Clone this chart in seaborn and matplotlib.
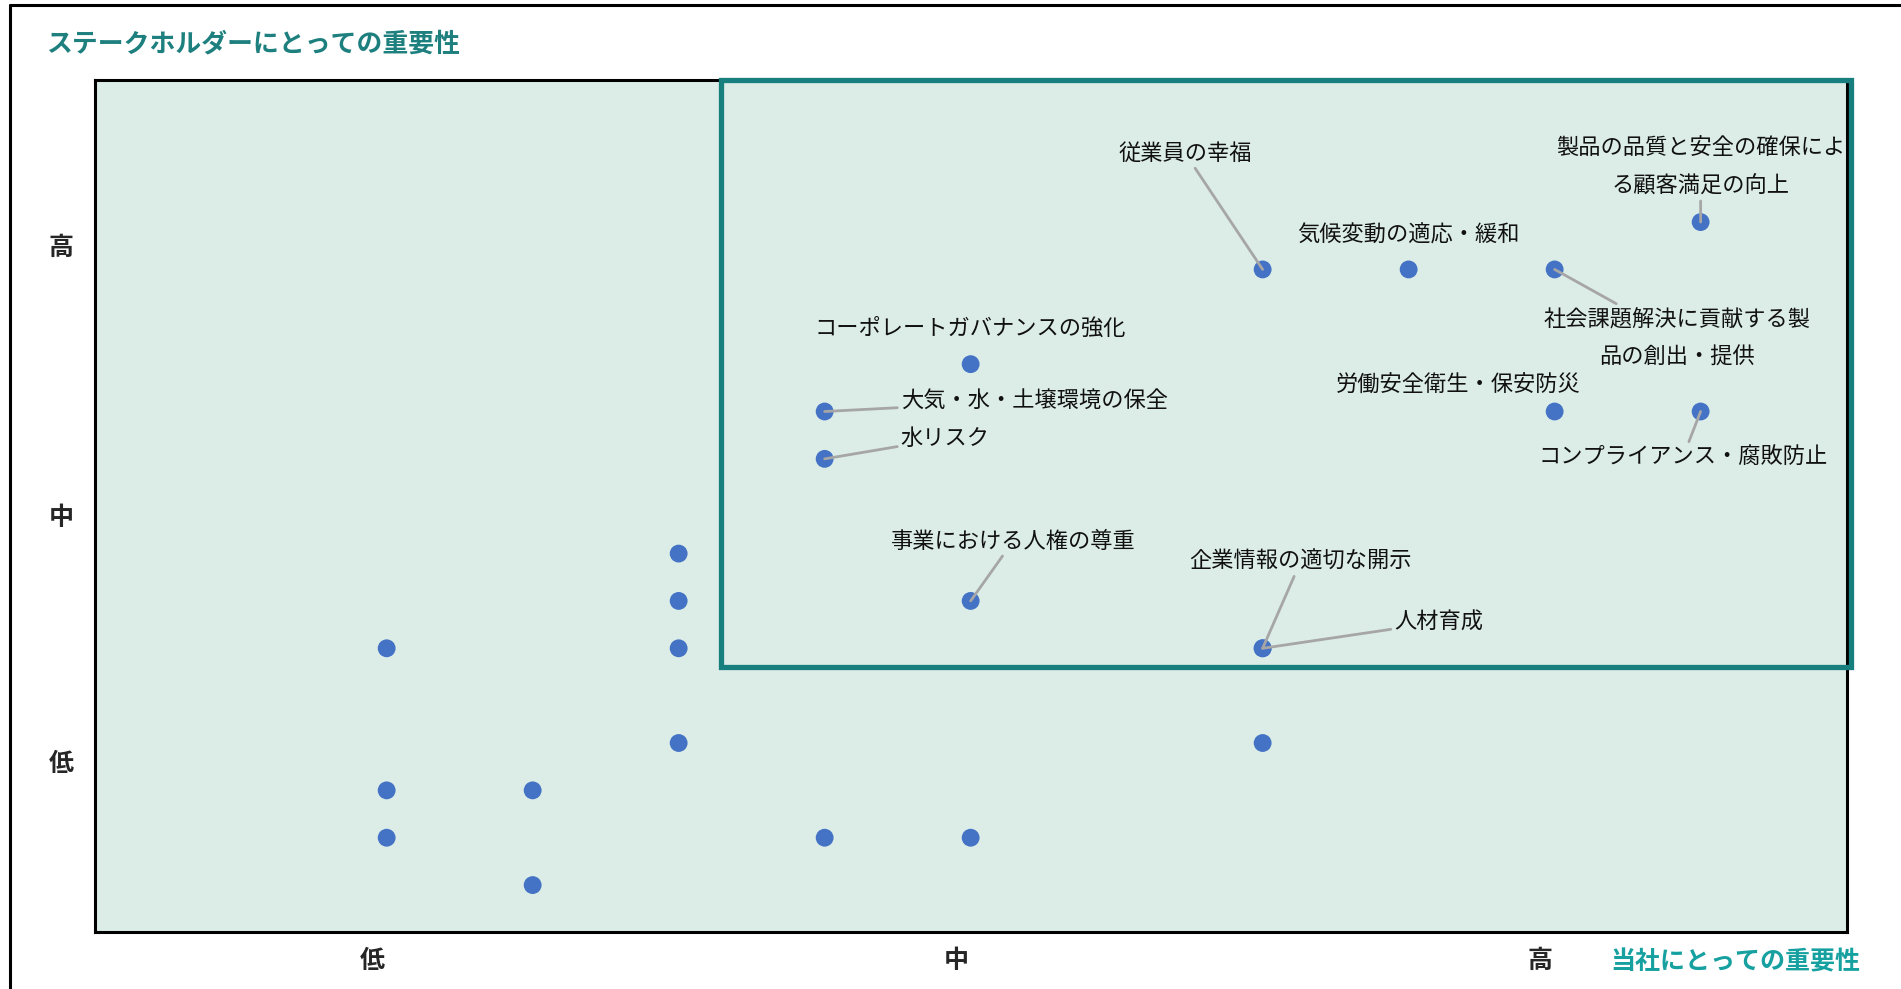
import numpy as np
import pandas as pd
import matplotlib
matplotlib.use("Agg")
import matplotlib.pyplot as plt
import seaborn as sns
from matplotlib.patches import Rectangle
from matplotlib.lines import Line2D

# materiality data: importance to company (x) and to stakeholders (y), grid units
imp_company = [11, 8, 9, 10, 6, 5, 5, 10, 11, 6, 8, 8,
               4, 4, 4, 2, 4, 8, 2, 3, 2, 5, 6, 3]
imp_stake = [15, 14, 14, 14, 12, 11, 10, 11, 11, 7, 6, 6,
             8, 7, 6, 6, 4, 4, 3, 3, 2, 2, 2, 1]
issues = ["製品の品質と安全の確保によ\nる顧客満足の向上", "従業員の幸福", "気候変動の適応・緩和",
          "社会課題解決に貢献する製\n品の創出・提供", "コーポレートガバナンスの強化",
          "大気・水・土壌環境の保全", "水リスク", "労働安全衛生・保安防災",
          "コンプライアンス・腐敗防止", "事業における人権の尊重",
          "企業情報の適切な開示", "人材育成"] + [""] * 12

tick_labels = ["低", "中", "高"]
title_y = "ステークホルダーにとっての重要性"
title_x = "当社にとっての重要性"

# label layout: (text x, text y, ha, draw leader line)
label_layout = [
    (11.0, 16.16, "center", True),
    (7.47, 16.45, "center", True),
    (9.0, 14.73, "center", False),
    (10.84, 12.56, "center", True),
    (6.0, 12.76, "center", False),
    (5.52, 11.23, "left", True),
    (5.52, 10.43, "left", True),
    (9.34, 11.56, "center", False),
    (10.88, 10.05, "center", True),
    (6.29, 8.26, "center", True),
    (8.26, 7.83, "center", True),
    (8.90, 6.55, "left", True),
]

df = pd.DataFrame({"company": imp_company, "stake": imp_stake, "issue": issues})

sns.set_style("white")
plt.rcParams['font.family'] = ['Noto Sans CJK JP', 'DejaVu Sans']

fig = plt.figure(figsize=(19.01, 9.89), dpi=100)
ax = fig.add_axes([0.0498, 0.0572, 0.9216, 0.8619])
ax.set_facecolor("#dcede8")

sns.scatterplot(data=df, x="company", y="stake", color="#4472C4", s=165,
                edgecolor="none", ax=ax, zorder=4)

ax.set_xlim(0, 12)
ax.set_ylim(0, 18)

for i, (tx, ty, ha, leader) in enumerate(label_layout):
    row = df.iloc[i]
    if leader:
        ax.annotate(row.issue, xy=(row.company, row.stake), xytext=(tx, ty),
                    ha=ha, va="center", fontsize=16, color="#111111", linespacing=1.85,
                    arrowprops=dict(arrowstyle="-", color="#a6a6a6", lw=2,
                                    shrinkA=0, shrinkB=0), zorder=5)
    else:
        ax.text(tx, ty, row.issue, ha=ha, va="center", fontsize=16,
                color="#111111", zorder=5)

# high-priority box
ax.add_patch(Rectangle((4.29, 5.6), 7.74, 12.4, fill=False, edgecolor="#17807f",
                       lw=3.8, clip_on=False, zorder=6))

ax.set_xticks([1.9, 5.9, 9.9])
ax.set_xticklabels(tick_labels, fontsize=18, fontweight="bold")
ax.set_yticks([3.6, 8.8, 14.5])
ax.set_yticklabels(tick_labels, fontsize=18, fontweight="bold")
ax.tick_params(axis="x", length=0, pad=12)
ax.tick_params(axis="y", length=0, pad=15)
ax.set_xlabel("")
ax.set_ylabel("")
for s in ax.spines.values():
    s.set_color("black")
    s.set_linewidth(2.2)
    s.set_visible(True)

fig.text(0.0242, 0.9555, title_y, ha="left", va="center", fontsize=18.6,
         fontweight="bold", color="#1e7f7f")
fig.text(0.913, 0.0267, title_x, ha="center", va="center", fontsize=18,
         fontweight="bold", color="#16a0a0")

# outer frame (top and left)
fig.add_artist(Line2D([0.0053, 1.0], [0.995, 0.995], color="black", lw=2.2,
                      transform=fig.transFigure))
fig.add_artist(Line2D([0.0053, 0.0053], [0.0, 0.995], color="black", lw=2.2,
                      transform=fig.transFigure))

fig.savefig("out.png", dpi=100)
